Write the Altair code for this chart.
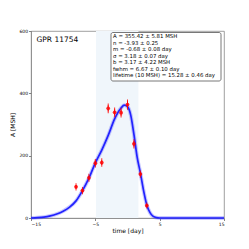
import altair as alt
import pandas as pd

# observed points
obs_t = [-8, -7, -6, -5, -4, -3, -2, -1, 0, 1, 2, 3]
obs_a = [100, 88, 129, 176, 178, 352, 339, 338, 364, 238, 141, 40]
obs_err = [6, 6, 7, 8, 8, 10, 10, 10, 11, 9, 6, 4]

# fitted curve
fit_t = [-15, -14, -13, -12, -11, -10, -9, -8, -7, -6, -5, -4, -3, -2, -1.5, -1, -0.5, 0, 0.5, 1, 1.5, 2, 2.5, 3, 3.5, 4, 4.5, 5, 6, 8, 10, 12, 15]
fit_a = [0, 1, 3, 7, 13, 22, 35, 55, 88, 128, 177, 218, 265, 318, 338, 353, 362, 357, 330, 268, 195, 145, 88, 42, 17, 5, 1, 0, 0, 0, 0, 0, 0]

band_start = [-4.9]
band_end = [1.7]

title_text = "GPR 11754"
info_lines = [
    "A = 355.42 ± 5.81  MSH",
    "n = -3.93 ± 0.25",
    "m = -0.68 ± 0.08  day",
    "σ = 3.18  ± 0.07  day",
    "b = 3.17  ± 4.22  MSH",
    "fwhm = 6.67  ± 0.10  day",
    "lifetime (10 MSH) = 15.28 ± 0.46  day",
]

obs = pd.DataFrame({"t": obs_t, "a": obs_a, "err": obs_err})
obs["lo"] = obs["a"] - obs["err"]
obs["hi"] = obs["a"] + obs["err"]
fit = pd.DataFrame({"t": fit_t, "a": fit_a})
band = pd.DataFrame({"s": band_start, "e": band_end})

xs = alt.Scale(domain=[-15, 15], nice=False)
ys = alt.Scale(domain=[0, 600], nice=False)
FONT = "DejaVu Sans"

xax = alt.Axis(values=[-15, -10, -5, 0, 5, 10, 15], title="time [day]", grid=False)
yax = alt.Axis(values=[0, 100, 200, 300, 400, 500, 600], title="A [MSH]", grid=False)

band_l = alt.Chart(band).mark_rect(color="#f0f6fb").encode(
    x=alt.X("s:Q", scale=xs, axis=xax), x2="e:Q"
)

fit_wide = alt.Chart(fit).mark_line(color="#4a4aff", strokeWidth=3.8, opacity=0.3, interpolate="monotone").encode(
    x=alt.X("t:Q", scale=xs), y=alt.Y("a:Q", scale=ys, axis=yax)
)
fit_line = alt.Chart(fit).mark_line(color="#2222ff", strokeWidth=1.7, interpolate="monotone").encode(
    x=alt.X("t:Q", scale=xs), y=alt.Y("a:Q", scale=ys)
)

err = alt.Chart(obs).mark_rule(color="red", strokeWidth=1, opacity=0.85).encode(
    x=alt.X("t:Q", scale=xs), y=alt.Y("lo:Q", scale=ys), y2="hi:Q"
)
cap_hi = alt.Chart(obs).mark_tick(color="red", thickness=1, size=3.5, opacity=0.85).encode(
    x=alt.X("t:Q", scale=xs), y=alt.Y("hi:Q", scale=ys)
)
cap_lo = alt.Chart(obs).mark_tick(color="red", thickness=1, size=3.5, opacity=0.85).encode(
    x=alt.X("t:Q", scale=xs), y=alt.Y("lo:Q", scale=ys)
)
pts = alt.Chart(obs).mark_point(shape="circle", filled=True, color="red", size=14, opacity=0.85).encode(
    x=alt.X("t:Q", scale=xs), y=alt.Y("a:Q", scale=ys)
)

box = alt.Chart(band).mark_rect(fill="white", stroke="#555555", strokeWidth=0.8, cornerRadius=2).encode(
    x=alt.value(80), x2=alt.value(190), y=alt.value(1.5), y2=alt.value(50)
)
info = alt.Chart(band).mark_text(
    text=info_lines, align="left", baseline="alphabetic", font=FONT, fontSize=5.4,
    lineHeight=6.55, color="black"
).encode(x=alt.value(82), y=alt.value(7))

ttl = alt.Chart(band).mark_text(
    text=title_text, align="left", baseline="middle", font=FONT, fontSize=7.5, color="black"
).encode(x=alt.value(5.5), y=alt.value(9))

chart = alt.layer(band_l, fit_wide, fit_line, err, cap_hi, cap_lo, pts, box, info, ttl).properties(
    width=193, height=187,
    autosize=alt.AutoSizeParams(type="none"),
    padding={"left": 23, "top": 23, "right": 10, "bottom": 20},
).configure_view(stroke="#888888", strokeWidth=0.8).configure_axis(
    labelFont=FONT, titleFont=FONT, labelFontSize=4.5, titleFontSize=6,
    titleFontWeight="normal", labelColor="black", titleColor="black",
    domainColor="#888888", domainWidth=0.8, tickColor="#333333", tickSize=2.5, tickWidth=0.6,
    labelPadding=1, titlePadding=1.5,
).configure_axisY(titlePadding=3)

chart.save("out.html", embed_options={"renderer": "svg", "actions": False})
